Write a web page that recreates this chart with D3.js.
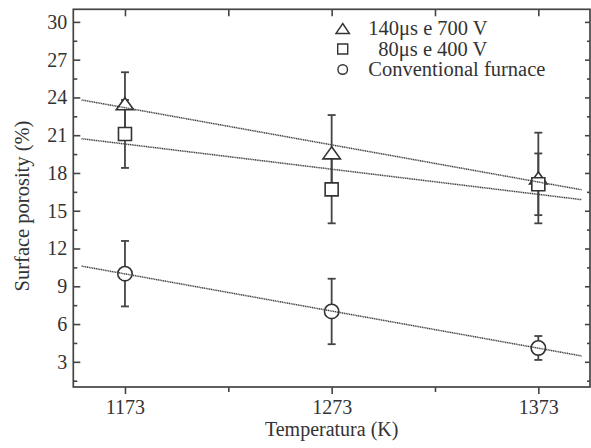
<!doctype html>
<html>
<head>
    <meta charset="utf-8">
    <title>Surface porosity</title>
    <style>
        body { margin: 0; background: #FFFFFF; }
        svg { display: block; }
        text {
            font-family: "Liberation Serif", "Times New Roman", serif;
            fill: #333333;
        }
        .axis path, .axis line {
            stroke: #444444;
            stroke-width: 1.6;
        }
        .frame {
            fill: none;
            stroke: #444444;
            stroke-width: 1.7;
        }
        .fit {
            fill: none;
            stroke: #444444;
            stroke-width: 1.5;
            stroke-dasharray: 1.2, 0.6;
        }
        .err {
            stroke: #444444;
            stroke-width: 1.8;
        }
        .marker {
            fill: #FFFFFF;
            stroke: #333333;
            stroke-width: 1.6;
        }
    </style>
</head>
<body>
    <div id="chart"></div>

    <script src="https://cdn.jsdelivr.net/npm/d3@7"></script>
    <script>
        // data
        var temperatures = [1173, 1273, 1373];
        var xTicks = [1173, 1273, 1373];
        var xMinorTicks = [1223, 1323];
        var yTicks = [3, 6, 9, 12, 15, 18, 21, 24, 27, 30];
        var yMinorTicks = [1.5, 4.5, 7.5, 10.5, 13.5, 16.5, 19.5, 22.5, 25.5, 28.5];

        var seriesNames = ['140\u03bcs e 700 V', '80\u03bcs e 400 V', 'Conventional furnace'];
        var seriesSymbols = ['triangle', 'square', 'circle'];

        var porosity140 = [23.5, 19.6, 17.6];
        var error140 = [2.5, 3.0, 3.6];
        var porosity80 = [21.1, 16.7, 17.1];
        var error80 = [2.7, 2.7, 2.45];
        var porosityFurnace = [10.0, 7.0, 4.1];
        var errorFurnace = [2.6, 2.6, 0.95];

        var fitRange = [1152, 1394];

        var svg_width = 591;
        var svg_height = 448;
        var margin = { top: 9.3, right: 1, bottom: 61, left: 73.3 };

        var x = d3.scaleLinear()
            .domain([1148, 1398])
            .range([margin.left, svg_width - margin.right]);

        var y = d3.scaleLinear()
            .domain([1, 31])
            .range([svg_height - margin.bottom, margin.top]);

        var series = [
            { name: seriesNames[0], symbol: seriesSymbols[0], values: porosity140, errors: error140 },
            { name: seriesNames[1], symbol: seriesSymbols[1], values: porosity80, errors: error80 },
            { name: seriesNames[2], symbol: seriesSymbols[2], values: porosityFurnace, errors: errorFurnace }
        ];

        var svg = d3.select('#chart').append('svg')
            .attr('width', svg_width)
            .attr('height', svg_height);

        svg.append('rect')
            .attr('width', svg_width)
            .attr('height', svg_height)
            .attr('fill', '#FFFFFF');

        drawAxes();
        drawPoints();
        drawFits();
        drawLegend();

        function drawAxes() {
            var x0 = x.range()[0], x1 = x.range()[1];
            var y0 = y.range()[0], y1 = y.range()[1];

            // bottom: ticks out, labels
            svg.append('g')
                .attr('class', 'axis')
                .attr('transform', 'translate(0,' + y0 + ')')
                .call(d3.axisBottom(x).tickValues(xTicks).tickSize(7).tickSizeOuter(0).tickPadding(6).tickFormat(d3.format('d')))
                .call(styleAxis);

            svg.append('g')
                .attr('class', 'axis')
                .attr('transform', 'translate(0,' + y0 + ')')
                .call(d3.axisBottom(x).tickValues(xMinorTicks).tickSize(5).tickSizeOuter(0).tickFormat(''))
                .call(styleAxis);

            // top: ticks in
            svg.append('g')
                .attr('class', 'axis')
                .attr('transform', 'translate(0,' + y1 + ')')
                .call(d3.axisTop(x).tickValues(xTicks.concat(xMinorTicks)).tickSize(-7).tickSizeOuter(0).tickFormat(''))
                .call(styleAxis);

            // left: ticks in, labels out
            svg.append('g')
                .attr('class', 'axis')
                .attr('transform', 'translate(' + x0 + ',0)')
                .call(d3.axisLeft(y).tickValues(yTicks).tickSize(-7).tickSizeOuter(0).tickPadding(6))
                .call(styleAxis);

            svg.append('g')
                .attr('class', 'axis')
                .attr('transform', 'translate(' + x0 + ',0)')
                .call(d3.axisLeft(y).tickValues(yMinorTicks).tickSize(-4).tickSizeOuter(0).tickFormat(''))
                .call(styleAxis);

            // right: ticks in
            svg.append('g')
                .attr('class', 'axis')
                .attr('transform', 'translate(' + x1 + ',0)')
                .call(d3.axisRight(y).tickValues(yTicks).tickSize(-5).tickSizeOuter(0).tickFormat(''))
                .call(styleAxis);

            svg.append('g')
                .attr('class', 'axis')
                .attr('transform', 'translate(' + x1 + ',0)')
                .call(d3.axisRight(y).tickValues(yMinorTicks).tickSize(-3).tickSizeOuter(0).tickFormat(''))
                .call(styleAxis);

            svg.append('rect')
                .attr('class', 'frame')
                .attr('x', x0)
                .attr('y', y1)
                .attr('width', x1 - x0)
                .attr('height', y0 - y1);

            svg.append('text')
                .attr('x', (x0 + x1) / 2)
                .attr('y', 436)
                .attr('text-anchor', 'middle')
                .style('font-size', '20px')
                .text('Temperatura (K)');

            svg.append('text')
                .attr('transform', 'translate(29,206) rotate(-90)')
                .attr('text-anchor', 'middle')
                .style('font-size', '20.5px')
                .text('Surface porosity (%)');
        }

        function styleAxis(g) {
            g.select('.domain').remove();
            g.selectAll('text')
                .style('font-size', '20px')
                .style('font-family', '"Liberation Serif", "Times New Roman", serif')
                .attr('fill', '#333333');
        }

        function fitLine(values) {
            var mx = d3.mean(temperatures);
            var my = d3.mean(values);
            var sxy = d3.sum(temperatures, function(t, i) { return (t - mx) * (values[i] - my); });
            var sxx = d3.sum(temperatures, function(t) { return (t - mx) * (t - mx); });
            var slope = sxy / sxx;
            return fitRange.map(function(t) {
                return [t, my + slope * (t - mx)];
            });
        }

        function drawFits() {
            var line = d3.line()
                .x(function(d) { return x(d[0]); })
                .y(function(d) { return y(d[1]); });

            svg.append('g').selectAll('path')
                .data(series)
              .enter().append('path')
                .attr('class', 'fit')
                .attr('d', function(s) { return line(fitLine(s.values)); });
        }

        function symbolPath(type, size) {
            var h;
            if (type === 'triangle') {
                // flattened triangle as in the figure
                var w = size.tw / 2;
                h = size.th / 2;
                return 'M0,' + (-h) + 'L' + w + ',' + h + 'L' + (-w) + ',' + h + 'Z';
            } else if (type === 'square') {
                h = size.sq / 2;
                return 'M' + (-h) + ',' + (-h) + 'H' + h + 'V' + h + 'H' + (-h) + 'Z';
            }
            var r = size.r;
            return 'M' + r + ',0A' + r + ',' + r + ' 0 1,1 ' + (-r) + ',0A' + r + ',' + r + ' 0 1,1 ' + r + ',0Z';
        }

        function drawPoints() {
            var plotSize = { tw: 17.5, th: 12, sq: 13, r: 7.2 };
            var capHalf = 4;

            var points = [];
            series.forEach(function(s) {
                temperatures.forEach(function(t, i) {
                    points.push({ t: t, v: s.values[i], e: s.errors[i], symbol: s.symbol });
                });
            });

            var bars = svg.append('g').selectAll('g')
                .data(points)
              .enter().append('g')
                .attr('class', 'err');

            bars.append('line')
                .attr('x1', function(d) { return x(d.t); })
                .attr('x2', function(d) { return x(d.t); })
                .attr('y1', function(d) { return y(d.v - d.e); })
                .attr('y2', function(d) { return y(d.v + d.e); });

            [-1, 1].forEach(function(sign) {
                bars.append('line')
                    .attr('x1', function(d) { return x(d.t) - capHalf; })
                    .attr('x2', function(d) { return x(d.t) + capHalf; })
                    .attr('y1', function(d) { return y(d.v + sign * d.e); })
                    .attr('y2', function(d) { return y(d.v + sign * d.e); });
            });

            svg.append('g').selectAll('path')
                .data(points)
              .enter().append('path')
                .attr('class', 'marker')
                .attr('transform', function(d) { return 'translate(' + x(d.t) + ',' + y(d.v) + ')'; })
                .attr('d', function(d) { return symbolPath(d.symbol, plotSize); });
        }

        function drawLegend() {
            var legendSize = { tw: 13.5, th: 10, sq: 10, r: 4.8 };
            var symbolX = 342.7;
            var textX = 368.3;
            var firstBaseline = 35;
            var rowGap = 20.5;

            var rows = svg.append('g').selectAll('g')
                .data(series)
              .enter().append('g')
                .attr('transform', function(d, i) {
                    return 'translate(0,' + (firstBaseline + i * rowGap) + ')';
                });

            rows.append('path')
                .attr('class', 'marker')
                .style('stroke-width', 1.4)
                .attr('transform', 'translate(' + symbolX + ',-6.5)')
                .attr('d', function(d) { return symbolPath(d.symbol, legendSize); });

            rows.append('text')
                .attr('x', function(d, i) { return i === 1 ? textX + 10 : textX; })
                .style('font-size', '20.5px')
                .text(function(d) { return d.name; });
        }
    </script>
</body>
</html>
